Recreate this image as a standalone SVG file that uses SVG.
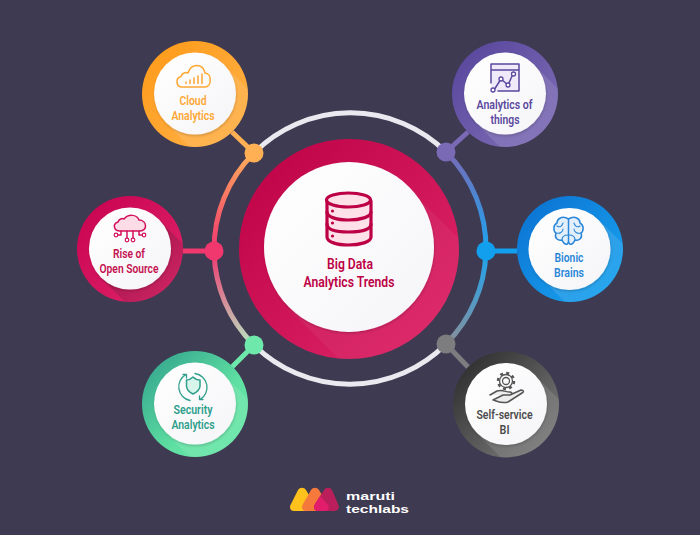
<svg xmlns="http://www.w3.org/2000/svg" width="700" height="535" viewBox="0 0 700 535">
<style>
text{font-family:"Roboto","Liberation Sans",sans-serif;font-weight:600;text-anchor:middle;font-size:13.5px}
.big{font-size:15px}
.logo{text-anchor:start;font-size:11.2px;font-weight:700;font-family:"Liberation Sans",sans-serif}
.thin{fill:none;stroke-width:1.5;stroke-linecap:round;stroke-linejoin:round}
.w{fill:url(#wh);filter:url(#sh)}
</style>
<defs>
<linearGradient id="wh" x1="0" y1="0" x2="1" y2="1"><stop offset="0" stop-color="#ffffff"/><stop offset="1" stop-color="#f5f5f8"/></linearGradient>
<filter id="sh" x="-20%" y="-20%" width="140%" height="140%"><feDropShadow dx="0.500" dy="1.500" stdDeviation="1" flood-color="#000" flood-opacity=".18"/></filter>
<clipPath id="cp"><circle r="53"/></clipPath>
<clipPath id="cpM"><circle r="110"/></clipPath>
<linearGradient id="lit" x1="0" y1="0" x2="1" y2="1"><stop offset="0.300" stop-color="#fff" stop-opacity=".13"/><stop offset="0.800" stop-color="#fff" stop-opacity="0"/></linearGradient>
<linearGradient id="litM" x1="0" y1="0" x2="1" y2="1"><stop offset="0.300" stop-color="#fff" stop-opacity=".05"/><stop offset="0.800" stop-color="#fff" stop-opacity="0"/></linearGradient>
<linearGradient id="dim" x1="0" y1="0" x2="1" y2="1"><stop offset="0.300" stop-color="#222" stop-opacity=".22"/><stop offset="0.800" stop-color="#222" stop-opacity="0"/></linearGradient>
<path id="fall" d="M29-29L89 31L31 89L-29 29Z"/>
<linearGradient id="gC" x1="0" y1="0" x2="1" y2="1"><stop offset="0" stop-color="#ff9a16"/><stop offset="1" stop-color="#ffb24c"/></linearGradient>
<linearGradient id="gT" x1="0" y1="0" x2="1" y2="1"><stop offset="0" stop-color="#54439a"/><stop offset="1" stop-color="#8371b8"/></linearGradient>
<linearGradient id="gR" x1="0" y1="0" x2="1" y2="1"><stop offset="0" stop-color="#c8004f"/><stop offset="1" stop-color="#e0286c"/></linearGradient>
<linearGradient id="gB" x1="0" y1="0" x2="1" y2="1"><stop offset="0" stop-color="#0a6fd0"/><stop offset="1" stop-color="#1ba8f2"/></linearGradient>
<linearGradient id="gS" x1="0" y1="0" x2="1" y2="1"><stop offset="0" stop-color="#2f9e8b"/><stop offset=".6" stop-color="#5fe0a2"/><stop offset="1" stop-color="#6ce8aa"/></linearGradient>
<linearGradient id="gG" x1="0" y1="0" x2="1" y2="1"><stop offset="0" stop-color="#262626"/><stop offset="1" stop-color="#858585"/></linearGradient>
<linearGradient id="gM" x1="0" y1="0" x2="1" y2="1"><stop offset="0" stop-color="#bd0045"/><stop offset="1" stop-color="#e0296a"/></linearGradient>
<linearGradient id="aUL" gradientUnits="userSpaceOnUse" x1="254" y1="153" x2="214" y2="251"><stop offset="0" stop-color="#ffb05a"/><stop offset="1" stop-color="#f0386f"/></linearGradient>
<linearGradient id="aLL" gradientUnits="userSpaceOnUse" x1="214" y1="251" x2="254" y2="345"><stop offset="0" stop-color="#f0386f"/><stop offset="1" stop-color="#b8e8c4"/></linearGradient>
<linearGradient id="aUR" gradientUnits="userSpaceOnUse" x1="446" y1="152" x2="486" y2="251"><stop offset="0" stop-color="#7a69b5"/><stop offset="1" stop-color="#1ea4ef"/></linearGradient>
<linearGradient id="aLR" gradientUnits="userSpaceOnUse" x1="486" y1="251" x2="446" y2="344"><stop offset="0" stop-color="#1ea4ef"/><stop offset="1" stop-color="#8a8f98"/></linearGradient>
</defs>
<rect width="700" height="535" fill="#3e3a51"/>
<g id="connectors" fill="none" stroke-width="5">
<path d="M254 153A136 136 0 0 1 446 152" stroke="#e9e9ef"/>
<path d="M254 345A136 136 0 0 0 446 344" stroke="#e9e9ef"/>
<path d="M254 153A136 136 0 0 0 214 251" stroke="url(#aUL)"/>
<path d="M214 251A136 136 0 0 0 254 345" stroke="url(#aLL)"/>
<path d="M446 152A136 136 0 0 1 486 251" stroke="url(#aUR)"/>
<path d="M486 251A136 136 0 0 1 446 344" stroke="url(#aLR)"/>
<path d="M232 132L254 153" stroke="#ffb055"/>
<path d="M468 132L446 152" stroke="#7a69b5"/>
<path d="M183 251H214" stroke="#f0386f"/>
<path d="M517 251H486" stroke="#12a0ee"/>
<path d="M232 367L254 345" stroke="#6fe8ab"/>
<path d="M468 367L446 344" stroke="#7d7d80"/>
<circle cx="254" cy="153" r="9.500" fill="#ffb055"/>
<circle cx="446" cy="152" r="9.500" fill="#7a69b5"/>
<circle cx="214" cy="251" r="9.500" fill="#f0386f"/>
<circle cx="486" cy="251" r="9.500" fill="#12a0ee"/>
<circle cx="254" cy="345" r="9.500" fill="#6fe8ab"/>
<circle cx="446" cy="344" r="9.500" fill="#7d7d80"/>
</g>
<g id="center">
<circle cx="349" cy="249" r="110" fill="url(#gM)"/>
<g transform="translate(349 249)" clip-path="url(#cpM)"><path d="M60-60L200 80L80 200L-60 60Z" fill="url(#litM)"/></g>
<circle cx="349" cy="247" r="85" class="w"/>
<g stroke="#bd0045" stroke-width="3.200" stroke-linecap="round" stroke-linejoin="round" fill="#fde0e8">
<path d="M327 201V237C327 242 337 245 348.500 245S371 242 371 237V201"/>
<ellipse cx="348.500" cy="200" rx="22" ry="7"/>
<path d="M327 212C327 217 337 220 348.500 220S371 217 371 212M327 224C327 230 337 232 348.500 232S371 230 371 224" fill="none"/>
</g>
<g fill="#bd0045"><circle cx="332.500" cy="211" r="1.600"/><circle cx="332.500" cy="223" r="1.600"/><circle cx="332.500" cy="236" r="1.600"/></g>
<text x="350" y="269" fill="#bd0045" class="big" textLength="46" lengthAdjust="spacingAndGlyphs">Big Data</text>
<text x="349" y="287" fill="#bd0045" class="big" textLength="91" lengthAdjust="spacingAndGlyphs">Analytics Trends</text>
</g>
<g id="cloud-analytics">
<circle cx="195" cy="94" r="53" fill="url(#gC)"/>
<g transform="translate(195 94)" clip-path="url(#cp)"><use href="#fall" fill="url(#lit)"/></g>
<circle cx="195" cy="93.500" r="41" class="w"/>
<path class="thin" stroke="#ffa733" fill="#fff" d="M182 87C176 87 175 78 181 76.500C182 73 186 72 188 73C191 63 203 63 205 73C212 73 212 87 205 87Z"/>
<path class="thin" stroke="#ffa733" d="M186 83.500V82M190 83.500V80M194 83.500V78M198 83.500V76M202 83.500V74"/>
<text x="193" y="105" fill="#ffa733" textLength="27" lengthAdjust="spacingAndGlyphs">Cloud</text>
<text x="193" y="120" fill="#ffa733" textLength="43" lengthAdjust="spacingAndGlyphs">Analytics</text>
</g>
<g id="analytics-of-things">
<circle cx="505" cy="94" r="53" fill="url(#gT)"/>
<g transform="translate(505 94)" clip-path="url(#cp)"><use href="#fall" fill="url(#lit)"/></g>
<circle cx="505" cy="93.500" r="41" class="w"/>
<rect x="491.500" y="64" width="28" height="27" fill="#eeeafa"/>
<path class="thin" stroke="#5a479e" d="M491 83V64H519V91H498M491 70H519"/>
<path class="thin" stroke="#5a479e" d="M494 90L501 79L508 85L513 74"/>
<g fill="#fff" stroke="#5a479e" stroke-width="1.300"><circle cx="493" cy="90" r="2"/><circle cx="501" cy="79" r="2"/><circle cx="508" cy="85" r="2"/><circle cx="513.500" cy="74" r="2"/></g>
<text x="504.500" y="109" fill="#5a479e" textLength="56" lengthAdjust="spacingAndGlyphs">Analytics of</text>
<text x="505" y="124" fill="#5a479e" textLength="29" lengthAdjust="spacingAndGlyphs">things</text>
</g>
<g id="rise-of-open-source">
<circle cx="130" cy="249" r="53" fill="url(#gR)"/>
<g transform="translate(130 249)" clip-path="url(#cp)"><use href="#fall" fill="url(#dim)"/></g>
<circle cx="130" cy="248.500" r="41" class="w"/>
<path class="thin" stroke="#d3115c" d="M120 231C114 231 112 224 118 222C119 219 122 218 124 219C128 214 137 214 139 220C147 220 148 231 140 231Z" style="fill:#fcdde7"/>
<path class="thin" stroke="#d3115c" d="M121 231V235H118M139 231V235H142M127 231V238M133 231V238"/>
<g fill="#fff" stroke="#d3115c" stroke-width="1.200"><circle cx="116" cy="235" r="1.800"/><circle cx="144" cy="235" r="1.800"/><circle cx="127" cy="240" r="1.800"/><circle cx="133" cy="240" r="1.800"/></g>
<text x="129" y="258" fill="#c4104f" textLength="32" lengthAdjust="spacingAndGlyphs">Rise of</text>
<text x="129" y="273" fill="#c4104f" textLength="59" lengthAdjust="spacingAndGlyphs">Open Source</text>
</g>
<g id="bionic-brains">
<circle cx="570" cy="249" r="53" fill="url(#gB)"/>
<g transform="translate(570 249)" clip-path="url(#cp)"><use href="#fall" fill="url(#lit)"/></g>
<circle cx="569.500" cy="249" r="41" class="w"/>
<path class="thin" stroke="#2a86d8" style="fill:#e3f0fb" d="M568.500 219C562 215 557 219 557 223C553 225 553 231 556 233C554 238 558 241 562 240C564 245 568 246 568.500 241ZM568.500 219C575 215 580 219 580 223C584 225 584 231 581 233C583 238 579 241 575 240C573 245 569 246 568.500 241Z"/>
<path class="thin" stroke="#2a86d8" style="stroke-width:1.100" d="M557 226C560 228 562 226 563 223M556 233C560 234 563 232 563 229M562 240C562 236 565 235 568 235M580 226C577 228 575 226 574 223M581 233C577 234 574 232 574 229M575 240C575 236 572 235 569 235"/>
<text x="569" y="262" fill="#2a86d8" textLength="29" lengthAdjust="spacingAndGlyphs">Bionic</text>
<text x="569" y="277" fill="#2a86d8" textLength="30" lengthAdjust="spacingAndGlyphs">Brains</text>
</g>
<g id="security-analytics">
<circle cx="195" cy="404" r="53" fill="url(#gS)"/>
<g transform="translate(195 404)" clip-path="url(#cp)"><use href="#fall" fill="url(#lit)"/></g>
<circle cx="195" cy="403.500" r="41" class="w"/>
<path class="thin" stroke="#2f9e8b" style="fill:#d8f5ec" d="M186.500 380C189 380 191 379 193 377C195 379 197 380 200 380V386C200 390 197 392 193 394C189 392 186.500 390 186.500 386Z"/>
<path class="thin" stroke="#2f9e8b" d="M186 374.500A14 14 0 0 0 190 400.500M183 374.500H186.500V378" style="stroke-width:1.300"/>
<path class="thin" stroke="#2f9e8b" d="M195 373.500A14 14 0 0 1 200 399.500M203 399.500H199.500V396" style="stroke-width:1.300"/>
<text x="193" y="414" fill="#2f9e8b" textLength="39" lengthAdjust="spacingAndGlyphs">Security</text>
<text x="193" y="429" fill="#2f9e8b" textLength="43" lengthAdjust="spacingAndGlyphs">Analytics</text>
</g>
<g id="self-service-bi">
<circle cx="506" cy="404.500" r="53" fill="url(#gG)"/>
<g transform="translate(506 404.500)" clip-path="url(#cp)"><use href="#fall" fill="url(#lit)"/></g>
<circle cx="506" cy="404" r="41" class="w"/>
<circle cx="506" cy="381" r="3.500" fill="none" stroke="#555" stroke-width="1.300"/>
<circle cx="506" cy="381" r="6.500" fill="none" stroke="#555" stroke-width="1.300"/>
<circle cx="506" cy="381" r="8" fill="none" stroke="#555" stroke-width="2.500" stroke-dasharray="3 3.280"/>
<path class="thin" stroke="#555" style="fill:#eee" d="M490 395L497 391C502 389 505 392 510 392C513 392 512 395 509 395M503 395H510L521 390C524 390 524 392 522 393L508 402C502 404 497 401 493 400Z"/>
<text x="504.500" y="419" fill="#4c4c4c" textLength="56" lengthAdjust="spacingAndGlyphs">Self-service</text>
<text x="504.500" y="434" fill="#4c4c4c" textLength="10" lengthAdjust="spacingAndGlyphs">BI</text>
</g>
<g id="logo">
<path d="M298 490C300 487 304 487 306 490L315 505C317 509 315 511 311 511H294C290 511 289 507 291 504Z" fill="#ffc21c"/>
<path d="M311 490C313 487 317 487 319 490L328 505C330 509 328 511 324 511H306C302 511 301 507 303 504Z" fill="#f5793b"/>
<path d="M324 490C326 487 330 487 332 490L338 504C340 508 338 511 334 511H318C314 511 313 507 315 504Z" fill="#bb1f5b"/>
<path d="M320 496L328 505C330 509 328 511 324 511H318C314 511 313 507 315 504Z" fill="#e21d6b"/>
<text x="346" y="499.500" fill="#fff" class="logo" textLength="49" lengthAdjust="spacingAndGlyphs">maruti</text>
<text x="346" y="512.500" fill="#fff" class="logo" textLength="63" lengthAdjust="spacingAndGlyphs">techlabs</text>
</g>
</svg>
